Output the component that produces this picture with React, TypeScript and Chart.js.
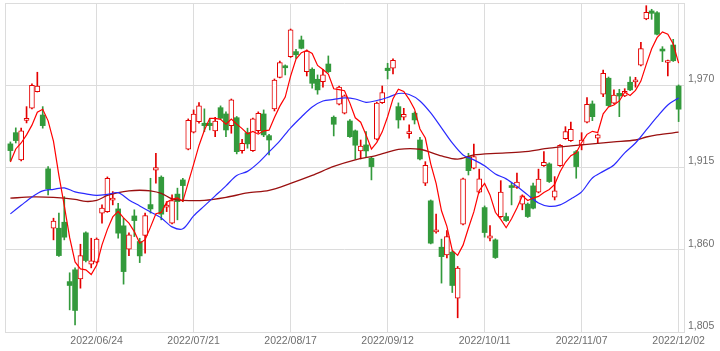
import React, { useEffect, useRef } from "react";
import { Chart, registerables } from "chart.js";

Chart.register(...registerables);

// X-axis date labels and the candle index each one sits on
const tickLabels = ["2022/06/24", "2022/07/21", "2022/08/17", "2022/09/12", "2022/10/11", "2022/11/07", "2022/12/02"];
const tickIdx = [16, 34, 52, 70, 88, 106, 124];
const yTicks = [1805, 1860, 1915, 1970, 2025];

// Daily OHLC (125 trading days)
const opens = [
  1930.8, 1938.3, 1920.1, 1946.5, 1954.6, 1965.7, 1950.1, 1914.1, 1874.4, 1874.4,
  1878.4, 1838.7, 1846.6, 1840.5, 1871.3, 1850.4, 1851.7, 1884.5, 1885.5, 1893.2,
  1887.3, 1876.0, 1860.4, 1882.6, 1865.5, 1869.5, 1890.2, 1913.2, 1908.5, 1888.5,
  1877.8, 1897.2, 1906.7, 1927.2, 1938.6, 1945.7, 1944.6, 1944.6, 1939.5, 1955.0,
  1950.8, 1943.0, 1948.3, 1926.3, 1938.3, 1926.3, 1939.7, 1950.8, 1936.3, 1954.2,
  1975.3, 1983.0, 1989.1, 1992.5, 2000.3, 1979.1, 1980.7, 1974.0, 1972.4, 1984.2,
  1948.6, 1957.3, 1951.3, 1946.1, 1939.5, 1926.1, 1930.1, 1921.2, 1933.9, 1958.4,
  1981.4, 1981.4, 1955.7, 1948.6, 1937.7, 1951.3, 1933.4, 1904.5, 1892.7, 1872.0,
  1861.7, 1856.6, 1858.4, 1827.6, 1877.1, 1922.3, 1914.5, 1898.5, 1888.2, 1867.7,
  1866.6, 1882.2, 1882.2, 1902.9, 1901.6, 1890.5, 1890.5, 1902.7, 1898.5, 1916.3,
  1917.4, 1895.1, 1916.3, 1934.3, 1933.0, 1925.6, 1930.1, 1945.3, 1957.5, 1934.6,
  1964.0, 1974.7, 1958.0, 1964.6, 1962.8, 1972.0, 1972.3, 1983.4, 2014.3, 2019.7,
  2018.5, 1994.2, 1985.2, 1996.9, 1969.5,
];
const highs = [
  1932.1, 1941.5, 1941.3, 1955.7, 1970.9, 1978.7, 1955.7, 1915.6, 1881.1, 1884.5,
  1895.5, 1844.6, 1847.9, 1863.7, 1872.0, 1867.7, 1867.9, 1890.0, 1908.7, 1898.9,
  1891.1, 1881.1, 1871.3, 1886.7, 1867.7, 1884.5, 1907.8, 1924.5, 1909.4, 1892.2,
  1896.7, 1901.2, 1907.8, 1947.5, 1953.5, 1958.4, 1954.2, 1947.9, 1948.6, 1956.2,
  1952.2, 1960.8, 1949.1, 1933.9, 1941.3, 1948.1, 1952.2, 1953.5, 1937.1, 1974.2,
  1986.2, 1983.6, 2007.6, 1994.1, 2002.9, 1993.6, 1981.6, 1976.9, 1980.7, 1989.6,
  1949.5, 1969.5, 1963.5, 1947.1, 1940.1, 1933.4, 1939.0, 1922.1, 1958.8, 1969.5,
  1984.7, 1987.6, 1958.2, 1954.6, 1943.5, 1952.2, 1935.2, 1918.9, 1893.3, 1883.8,
  1867.1, 1872.8, 1859.3, 1848.8, 1908.0, 1924.5, 1930.6, 1913.9, 1889.3, 1876.2,
  1867.3, 1906.2, 1884.5, 1904.5, 1911.2, 1896.7, 1891.3, 1904.5, 1913.9, 1925.6,
  1918.1, 1908.9, 1930.4, 1942.3, 1945.3, 1926.4, 1938.3, 1961.7, 1959.5, 1937.4,
  1980.2, 1975.5, 1966.9, 1967.3, 1967.7, 1975.7, 1975.3, 1998.7, 2023.2, 2020.8,
  2019.3, 1995.8, 1986.9, 2000.7, 1970.2,
];
const lows = [
  1919.4, 1931.4, 1919.4, 1944.8, 1954.2, 1965.5, 1941.3, 1896.7, 1866.6, 1855.6,
  1866.6, 1819.8, 1809.8, 1834.3, 1851.9, 1847.9, 1851.2, 1877.8, 1885.0, 1890.0,
  1867.7, 1837.0, 1856.1, 1868.8, 1851.4, 1857.7, 1884.5, 1904.5, 1880.0, 1885.5,
  1877.3, 1880.0, 1892.2, 1926.8, 1938.1, 1944.6, 1939.0, 1940.1, 1935.6, 1947.5,
  1935.6, 1937.9, 1924.1, 1924.5, 1927.9, 1925.8, 1938.1, 1935.6, 1923.4, 1952.8,
  1974.9, 1976.9, 1988.6, 1988.0, 1994.3, 1976.2, 1968.0, 1964.0, 1968.7, 1978.5,
  1936.1, 1956.8, 1950.8, 1935.1, 1920.5, 1920.7, 1922.3, 1906.7, 1933.4, 1957.8,
  1974.2, 1977.5, 1941.3, 1946.8, 1934.6, 1944.1, 1920.1, 1902.9, 1863.9, 1871.1,
  1837.7, 1854.6, 1831.4, 1814.5, 1876.6, 1910.0, 1914.1, 1898.0, 1868.4, 1865.9,
  1854.2, 1881.6, 1879.0, 1890.0, 1901.0, 1886.7, 1881.6, 1887.3, 1898.0, 1915.7,
  1905.0, 1893.3, 1915.7, 1933.8, 1932.4, 1907.8, 1926.8, 1944.8, 1946.3, 1931.2,
  1962.4, 1955.8, 1957.5, 1949.0, 1962.4, 1966.4, 1968.7, 1982.9, 2013.8, 2014.1,
  2003.6, 1985.8, 1976.2, 1985.9, 1945.7,
];
const closes = [
  1926.3, 1933.0, 1939.5, 1947.8, 1970.0, 1969.5, 1943.0, 1900.7, 1879.1, 1856.1,
  1868.4, 1836.1, 1819.4, 1856.1, 1852.8, 1852.6, 1867.1, 1887.8, 1907.8, 1894.5,
  1871.1, 1845.4, 1870.0, 1879.5, 1855.9, 1882.9, 1887.3, 1914.9, 1883.8, 1889.8,
  1892.9, 1892.2, 1902.9, 1946.6, 1950.8, 1956.2, 1943.0, 1943.0, 1946.1, 1947.9,
  1940.1, 1960.2, 1925.6, 1931.2, 1930.8, 1947.5, 1951.3, 1936.8, 1933.4, 1973.5,
  1985.1, 1981.7, 2007.0, 1990.4, 1994.7, 1992.9, 1971.3, 1966.9, 1976.9, 1979.1,
  1943.9, 1968.7, 1963.0, 1935.6, 1929.9, 1929.4, 1926.1, 1915.6, 1958.0, 1965.1,
  1979.8, 1986.7, 1946.8, 1950.6, 1939.0, 1946.8, 1920.7, 1916.5, 1864.4, 1873.3,
  1855.4, 1868.8, 1836.1, 1847.7, 1907.4, 1912.9, 1922.3, 1907.4, 1871.5, 1869.3,
  1854.8, 1898.5, 1879.5, 1901.6, 1905.2, 1896.0, 1882.2, 1887.8, 1907.2, 1918.5,
  1905.6, 1899.4, 1929.9, 1939.0, 1940.6, 1915.6, 1933.4, 1957.3, 1949.0, 1936.8,
  1978.0, 1956.4, 1963.5, 1962.8, 1966.0, 1966.9, 1973.6, 1994.5, 2018.8, 2018.1,
  2004.1, 1992.9, 1986.5, 1986.4, 1954.0,
];

// Short moving average: first four values, the rest = 5-day mean of closes
const ma5Head = [1918.7, 1927.4, 1931.4, 1936.8];

// Medium moving average (blue), read at these candle indices
const ma25Idx = [
  0, 2, 4, 6, 8, 10, 12, 14, 16, 18, 20, 22, 24, 26, 28, 30, 32, 34, 36, 38,
  40, 42, 44, 46, 48, 50, 52, 54, 56, 58, 60, 62, 64, 66, 68, 70, 72, 74, 76, 78,
  80, 82, 84, 86, 88, 90, 92, 94, 96, 98, 100, 102, 104, 106, 108, 110, 112, 114, 116, 118,
  120, 122, 124,
];
const ma25Val = [
  1884.0, 1889.7, 1895.3, 1899.4, 1900.4, 1901.4, 1898.7, 1897.4, 1896.3, 1897.0,
  1898.2, 1893.3, 1889.3, 1885.3, 1881.3, 1875.3, 1874.0, 1882.6, 1889.3, 1896.0,
  1902.7, 1909.7, 1912.4, 1918.1, 1925.4, 1932.8, 1941.5, 1948.8, 1955.5, 1959.5,
  1960.5, 1961.5, 1960.8, 1958.6, 1959.8, 1961.8, 1964.5, 1963.8, 1959.5, 1951.5,
  1941.5, 1931.4, 1923.4, 1920.1, 1916.1, 1910.7, 1907.4, 1902.4, 1896.7, 1891.3,
  1889.0, 1890.0, 1894.0, 1898.7, 1908.0, 1912.4, 1916.7, 1924.8, 1931.4, 1940.1,
  1948.8, 1956.8, 1961.5,
];

// Long moving average (dark red), read at these candle indices
const ma75Idx = [
  0, 4, 8, 12, 14, 16, 18, 20, 22, 24, 26, 28, 30, 32, 36, 40, 44, 48, 52, 56,
  60, 64, 68, 72, 76, 80, 83, 86, 90, 95, 100, 104, 108, 112, 116, 118, 120, 124,
];
const ma75Val = [
  1894.5, 1895.3, 1895.0, 1893.7, 1892.3, 1893.0, 1896.3, 1898.2, 1899.4, 1899.8,
  1899.4, 1897.7, 1894.0, 1893.0, 1893.0, 1895.0, 1898.0, 1899.7, 1904.4, 1909.7,
  1915.7, 1920.1, 1923.1, 1927.1, 1927.2, 1922.7, 1920.6, 1923.4, 1924.5, 1925.4,
  1927.9, 1929.4, 1930.8, 1932.1, 1933.4, 1935.4, 1936.8, 1938.6,
];

const RED = "#e40000";
const GREEN = "#339a3c";
const GRID = "#dcdcdc";
const FONT = { family: "'Liberation Sans', Arial, sans-serif", size: 10.5 };

export default function App() {
  const ref = useRef<HTMLCanvasElement | null>(null);

  useEffect(() => {
    if (!ref.current) return;
    const idx = opens.map((_, i) => i);
    const up = (i: number) => closes[i] >= opens[i];
    const ma5 = closes.map((_, i) => {
      if (i < 4) return ma5Head[i];
      let s = 0;
      for (let k = i - 4; k <= i; k++) s += closes[k];
      return s / 5;
    });

    const chart = new Chart(ref.current, {
      type: "bar",
      data: {
        datasets: [
          {
            type: "line",
            label: "MA5",
            data: ma5.map((v, i) => ({ x: i, y: v })),
            borderColor: "#ff0000",
            borderWidth: 1.2,
            pointRadius: 0,
            tension: 0,
            order: 0,
          } as any,
          {
            type: "line",
            label: "MA25",
            data: ma25Idx.map((x, k) => ({ x, y: ma25Val[k] })),
            borderColor: "#2a2aff",
            borderWidth: 1.2,
            pointRadius: 0,
            tension: 0.3,
            order: 0,
          } as any,
          {
            type: "line",
            label: "MA75",
            data: ma75Idx.map((x, k) => ({ x, y: ma75Val[k] })),
            borderColor: "#9a1010",
            borderWidth: 1.3,
            pointRadius: 0,
            tension: 0.3,
            order: 0,
          } as any,
          {
            type: "bar",
            label: "body",
            data: idx.map((i) => ({ x: i, y: [opens[i], closes[i]] })),
            backgroundColor: idx.map((i) => (up(i) ? "#ffffff" : GREEN)),
            borderColor: idx.map((i) => (up(i) ? RED : GREEN)),
            borderWidth: idx.map((i) => (up(i) ? 1 : 0)),
            borderSkipped: false,
            barThickness: 5,
            grouped: false,
            order: 1,
          } as any,
          {
            type: "bar",
            label: "wick",
            data: idx.map((i) => ({ x: i, y: [lows[i], highs[i]] })),
            backgroundColor: idx.map((i) => (up(i) ? RED : GREEN)),
            borderWidth: 0,
            barThickness: 1,
            grouped: false,
            order: 2,
          } as any,
        ],
      },
      options: {
        animation: false,
        responsive: false,
        maintainAspectRatio: false,
        layout: { padding: { left: 5, top: 3, right: 0, bottom: 0 } },
        plugins: { legend: { display: false }, tooltip: { enabled: false } },
        scales: {
          x: {
            type: "linear",
            min: -1,
            max: 125,
            offset: false,
            afterBuildTicks: (s: any) => {
              s.ticks = [-1, ...tickIdx].map((v) => ({ value: v }));
            },
            afterFit: (s: any) => {
              s.height = 19;
              s.paddingLeft = 0;
              s.paddingRight = 0;
            },
            ticks: {
              autoSkip: false,
              maxRotation: 0,
              minRotation: 0,
              padding: 3,
              color: "#6e6e6e",
              font: FONT,
              callback: (v: any) => {
                const k = tickIdx.indexOf(Number(v));
                return k >= 0 ? tickLabels[k] : "";
              },
            },
            grid: { color: GRID, drawTicks: false, offset: false },
            border: { display: true, color: GRID },
          },
          y: {
            type: "linear",
            position: "right",
            min: 1805,
            max: 2025,
            afterBuildTicks: (s: any) => {
              s.ticks = yTicks.map((v) => ({ value: v }));
            },
            afterFit: (s: any) => {
              s.width = 36;
              s.paddingTop = 0;
              s.paddingBottom = 0;
            },
            ticks: {
              padding: 4,
              labelOffset: -6,
              color: "#6e6e6e",
              font: FONT,
              callback: (v: any) => (Number(v) === 2025 ? "" : Number(v).toLocaleString("en-US")),
            },
            grid: { color: GRID, drawTicks: false, offset: false },
            border: { display: true, color: GRID },
          },
        },
      } as any,
    });
    return () => chart.destroy();
  }, []);

  return (
    <div style={{ position: "fixed", left: 0, top: 0, width: 720, height: 351, background: "#ffffff" }}>
      <canvas ref={ref} width={720} height={351} />
    </div>
  );
}
